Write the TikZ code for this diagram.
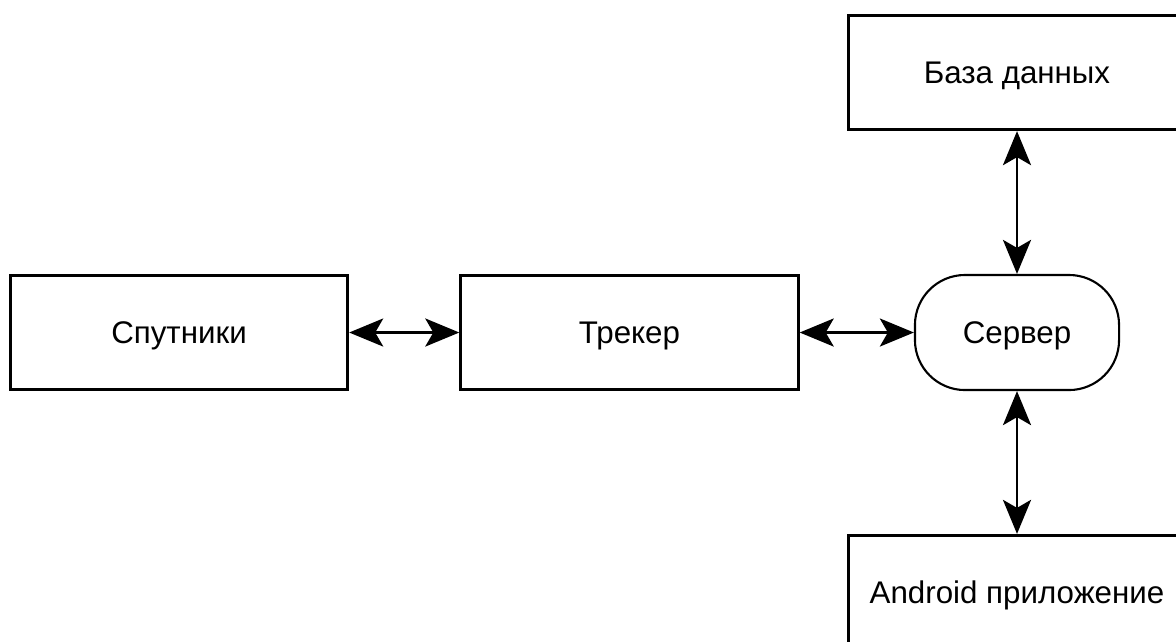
\documentclass[tikz,border=0pt]{standalone}
\usepackage{fontspec}
\setmainfont{Liberation Sans}
\usetikzlibrary{arrows.meta}
\begin{document}
\begin{tikzpicture}[x=0.01cm, y=-0.01cm,
  every node/.style={font=\fontsize{8.9}{10.5}\selectfont, inner sep=0pt,
    text height=6.3pt, text depth=0pt},
  blockbox/.style={draw, line width=0.9pt, minimum width=3.37cm, minimum height=1.14cm},
  serverbox/.style={draw, line width=0.6pt, rounded corners=0.5cm,
    minimum width=2.04cm, minimum height=1.15cm},
  link/.style={line width=0.8pt,
    {Stealth[length=0.34cm, width=0.28cm, inset=0.08cm]}-{Stealth[length=0.34cm, width=0.28cm, inset=0.08cm]}}
]
\useasboundingbox (0,0) rectangle (1176,641);
\clip (0,0) rectangle (1176,641);
\fill[white] (0,0) rectangle (1176,641);

\node[blockbox]  (sat) at (179,332.5)  {Спутники};
\node[blockbox]  (trk) at (629.5,332.5) {Трекер};
\node[serverbox] (srv) at (1017,332.5) {Сервер};
\node[blockbox]  (db)  at (1017,72.5)  {База данных};
\node[blockbox]  (app) at (1017,592.5) {Android приложение};

\draw[link] (sat) -- (trk);
\draw[link] (trk) -- (srv);
\draw[link] (db) -- (srv);
\draw[link] (srv) -- (app);
\end{tikzpicture}
\end{document}
